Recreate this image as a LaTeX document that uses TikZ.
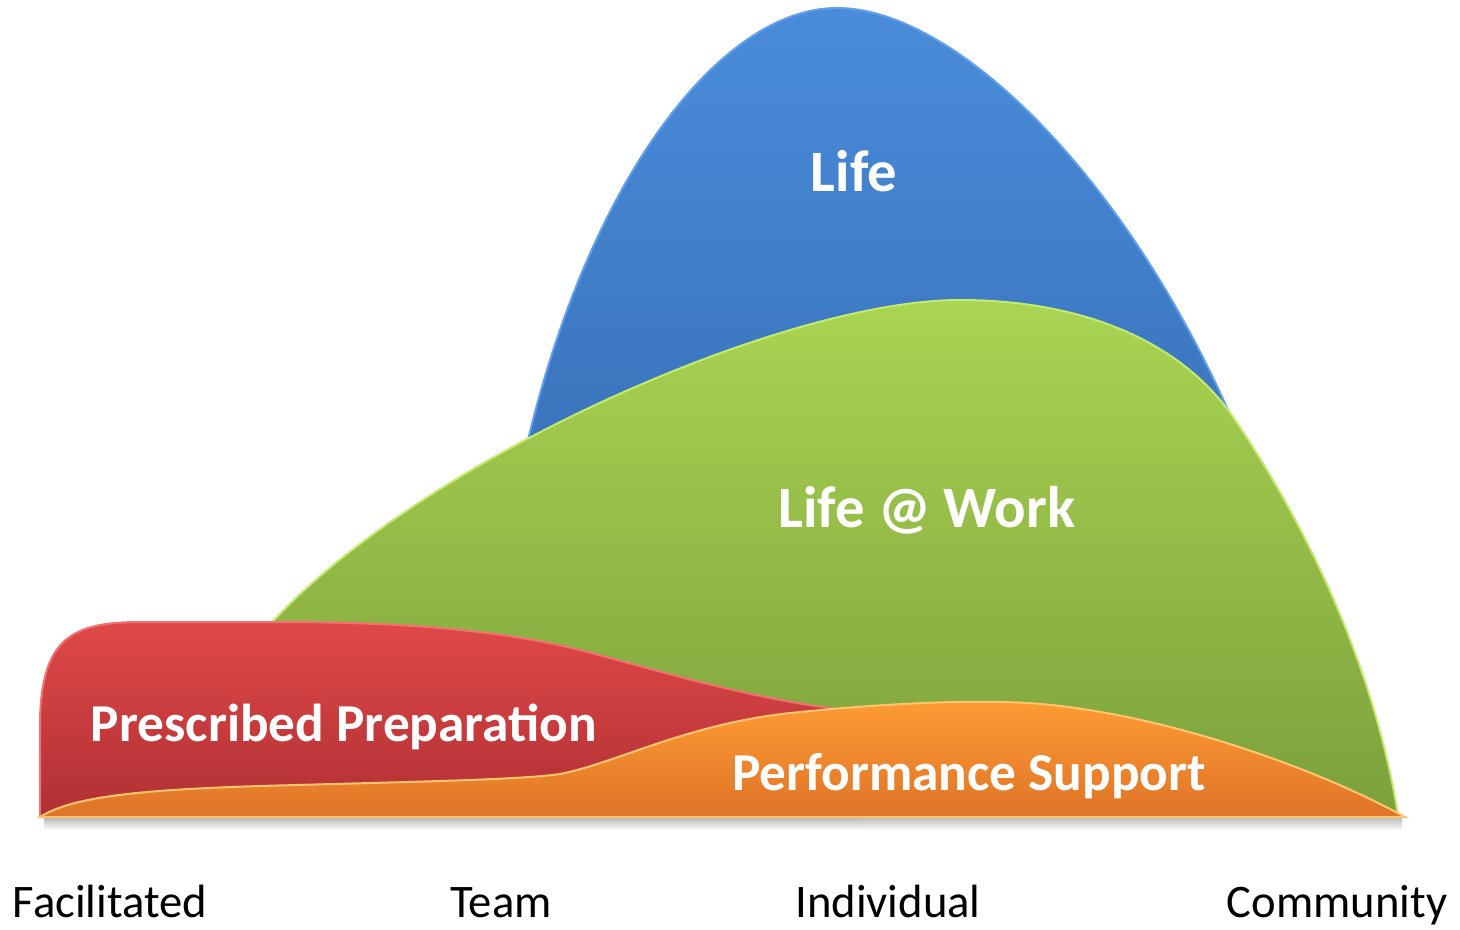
\documentclass[tikz,border=0pt]{standalone}
\usepackage{fontspec}
\setmainfont{Carlito}

\definecolor{lifeTop}{RGB}{74,140,218}
\definecolor{lifeBot}{RGB}{58,116,188}
\definecolor{lifeRim}{RGB}{96,160,236}
\definecolor{workTop}{RGB}{170,212,82}
\definecolor{workBot}{RGB}{124,160,60}
\definecolor{workRim}{RGB}{196,234,110}
\definecolor{prepTop}{RGB}{224,72,72}
\definecolor{prepBot}{RGB}{176,48,52}
\definecolor{prepRim}{RGB}{244,112,112}
\definecolor{suppTop}{RGB}{255,156,52}
\definecolor{suppBot}{RGB}{222,116,40}
\definecolor{suppRim}{RGB}{255,196,110}

\tikzset{every picture/.style={line width=0.75pt}}
\tikzset{
  hump label/.style={text=white, inner sep=0.75pt, font=\fontsize{40}{48}\selectfont\bfseries},
  big hump label/.style={hump label, font=\fontsize{44}{52}\selectfont\bfseries},
  axis label/.style={text=black, inner sep=0.75pt, font=\fontsize{35}{42}\selectfont}
}

\begin{document}
\begin{tikzpicture}[x=0.75pt,y=0.75pt,yscale=-1,xscale=1]
%set diagram left start at 0, and has height of 929
\useasboundingbox (0,0) rectangle (1460,929);

%Shape: Baseline shadow [id:sh0]
\shade [top color=black!30, bottom color=white] (44,816) rectangle (1402,830);

%Shape: Polygon Curved [id:life] 
\shade [top color=lifeTop, bottom color=lifeBot, draw=lifeRim, line width=1.5] (528,440) .. controls (590,180) and (720,8) .. (837,8) .. controls (960,8) and (1140,190) .. (1245,450) -- cycle ;
%Shape: Polygon Curved [id:work] 
\shade [top color=workTop, bottom color=workBot, draw=workRim, line width=1.5] (265,630) .. controls (410,465) and (780,300) .. (960,300) .. controls (1080,300) and (1180,340) .. (1233,417) .. controls (1285,493) and (1370,640) .. (1398,815) -- (265,815) -- cycle ;
%Shape: Polygon Curved [id:prep] 
\shade [top color=prepTop, bottom color=prepBot, draw=prepRim, line width=1.5] (40,817) -- (40,720) .. controls (42,640) and (70,622) .. (140,622) -- (280,622) .. controls (400,622) and (500,630) .. (580,650) .. controls (650,668) and (750,700) .. (860,712) -- (860,817) -- cycle ;
%Shape: Polygon Curved [id:supp] 
\shade [top color=suppTop, bottom color=suppBot, draw=suppRim, line width=1.5] (40,817) .. controls (70,798) and (130,790) .. (260,786) .. controls (400,782) and (520,780) .. (560,774) .. controls (620,762) and (690,722) .. (800,712) .. controls (900,702) and (1000,698) .. (1060,706) .. controls (1180,720) and (1320,770) .. (1405,817) -- cycle ;

% Text Node
\draw (854,191) node (life) [big hump label, anchor=base] {Life};
% Text Node
\draw (927,527) node (work) [big hump label, anchor=base] {Life @ Work};
% Text Node
\draw (344,741) node (prep) [hump label, anchor=base] {Prescribed Preparation};
% Text Node
\draw (969,790) node (supp) [hump label, anchor=base] {Performance Support};

% Text Node
\draw (110,917) node (facilitated) [axis label, anchor=base] {Facilitated};
% Text Node
\draw (501,917) node (team) [axis label, anchor=base] {Team};
% Text Node
\draw (888,917) node (individual) [axis label, anchor=base] {Individual};
% Text Node
\draw (1337,917) node (community) [axis label, anchor=base] {Community};

\end{tikzpicture}
\end{document}
